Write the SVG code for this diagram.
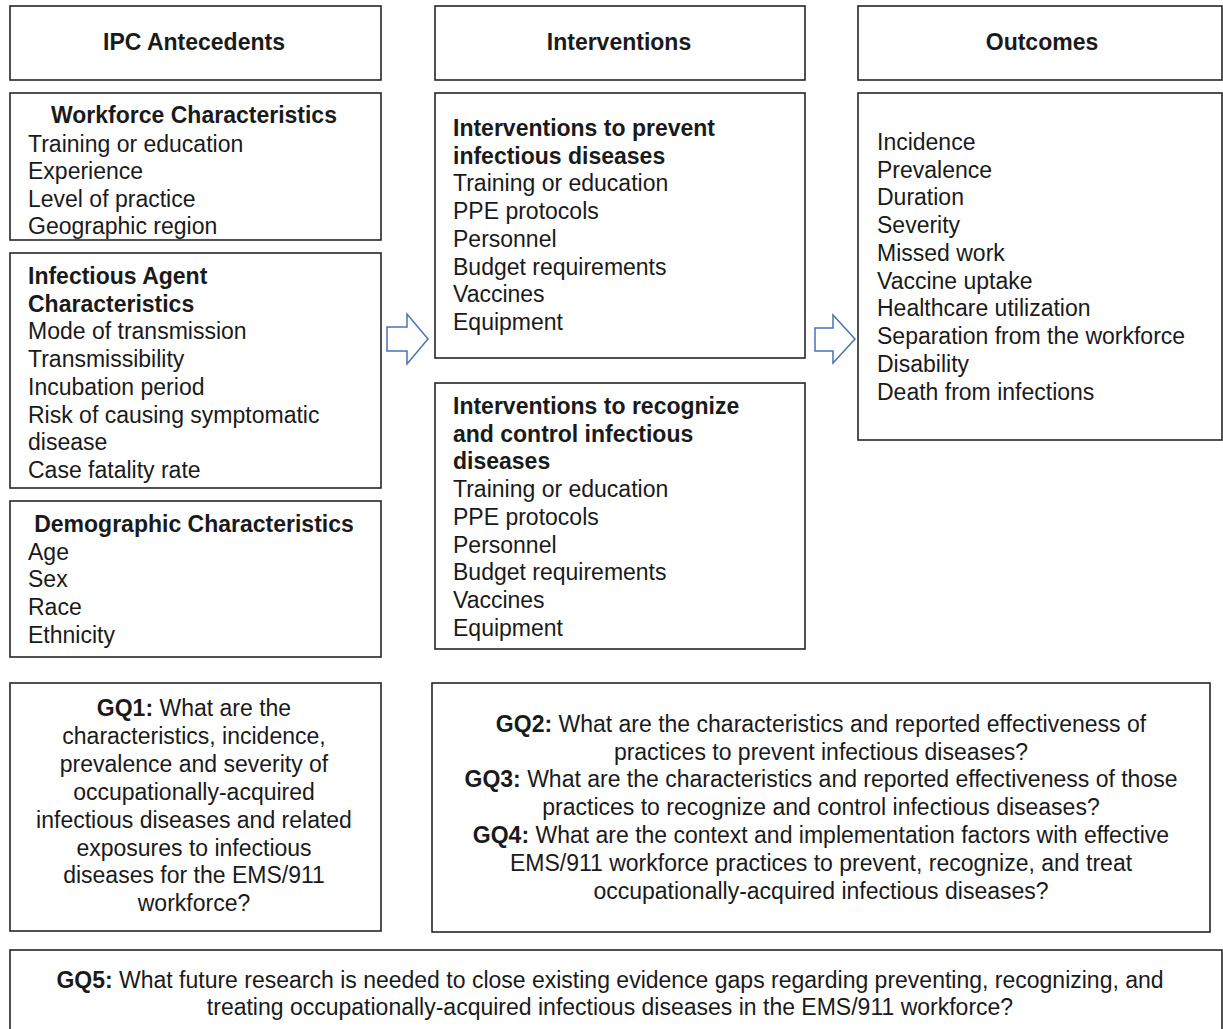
<svg xmlns="http://www.w3.org/2000/svg" width="1223" height="1029" viewBox="0 0 1223 1029">
<style>
.box{fill:#fff;stroke:#262626;stroke-width:1.6}
text{font-family:"Liberation Sans",Arial,sans-serif;font-size:23px;fill:#1a1a1a}
.b{font-weight:bold}
.c{text-anchor:middle}
.arr{fill:#fff;stroke:#4a72b8;stroke-width:1.5;stroke-linejoin:miter}
</style>
<rect width="1223" height="1029" fill="#fff"/>
<g id="n-ipc"><rect class="box" x="10" y="6" width="371" height="74"/><text class="b c" x="194" y="50">IPC Antecedents</text></g>
<g id="n-interventions"><rect class="box" x="435" y="6" width="370" height="74"/><text class="b c" x="619" y="50">Interventions</text></g>
<g id="n-outcomes"><rect class="box" x="858" y="6" width="364" height="74"/><text class="b c" x="1042" y="50">Outcomes</text></g>
<g id="n-workforce"><rect class="box" x="10" y="93" width="371" height="147"/>
<text class="b c" x="194" y="123">Workforce Characteristics</text>
<text x="28" y="151.5">Training or education</text>
<text x="28" y="179">Experience</text>
<text x="28" y="206.5">Level of practice</text>
<text x="28" y="234">Geographic region</text></g>
<g id="n-agent"><rect class="box" x="10" y="253" width="371" height="235"/>
<text class="b" x="28" y="284">Infectious Agent</text>
<text class="b" x="28" y="312">Characteristics</text>
<text x="28" y="339">Mode of transmission</text>
<text x="28" y="367">Transmissibility</text>
<text x="28" y="395">Incubation period</text>
<text x="28" y="423">Risk of causing symptomatic</text>
<text x="28" y="450">disease</text>
<text x="28" y="478">Case fatality rate</text></g>
<g id="n-demographic"><rect class="box" x="10" y="501" width="371" height="156"/>
<text class="b c" x="194" y="532">Demographic Characteristics</text>
<text x="28" y="560">Age</text>
<text x="28" y="587">Sex</text>
<text x="28" y="615">Race</text>
<text x="28" y="643">Ethnicity</text></g>
<g id="n-prevent"><rect class="box" x="435" y="93" width="370" height="265"/>
<text class="b" x="453" y="136">Interventions to prevent</text>
<text class="b" x="453" y="164">infectious diseases</text>
<text x="453" y="191">Training or education</text>
<text x="453" y="219">PPE protocols</text>
<text x="453" y="247">Personnel</text>
<text x="453" y="275">Budget requirements</text>
<text x="453" y="302">Vaccines</text>
<text x="453" y="330">Equipment</text></g>
<g id="n-recognize"><rect class="box" x="435" y="383" width="370" height="266"/>
<text class="b" x="453" y="414">Interventions to recognize</text>
<text class="b" x="453" y="442">and control infectious</text>
<text class="b" x="453" y="469">diseases</text>
<text x="453" y="497">Training or education</text>
<text x="453" y="525">PPE protocols</text>
<text x="453" y="553">Personnel</text>
<text x="453" y="580">Budget requirements</text>
<text x="453" y="608">Vaccines</text>
<text x="453" y="636">Equipment</text></g>
<g id="n-outcomelist"><rect class="box" x="858" y="93" width="364" height="347"/>
<text x="877" y="150">Incidence</text>
<text x="877" y="178">Prevalence</text>
<text x="877" y="205">Duration</text>
<text x="877" y="233">Severity</text>
<text x="877" y="261">Missed work</text>
<text x="877" y="289">Vaccine uptake</text>
<text x="877" y="316">Healthcare utilization</text>
<text x="877" y="344">Separation from the workforce</text>
<text x="877" y="372">Disability</text>
<text x="877" y="400">Death from infections</text></g>
<g id="n-gq1"><rect class="box" x="10" y="683" width="371" height="248"/>
<text class="c" x="194" y="716"><tspan class="b">GQ1:</tspan> What are the</text>
<text class="c" x="194" y="744">characteristics, incidence,</text>
<text class="c" x="194" y="772">prevalence and severity of</text>
<text class="c" x="194" y="800">occupationally-acquired</text>
<text class="c" x="194" y="828">infectious diseases and related</text>
<text class="c" x="194" y="856">exposures to infectious</text>
<text class="c" x="194" y="883">diseases for the EMS/911</text>
<text class="c" x="194" y="911">workforce?</text></g>
<g id="n-gq234"><rect class="box" x="432" y="683" width="778" height="249"/>
<text class="c" x="821" y="732"><tspan class="b">GQ2:</tspan> What are the characteristics and reported effectiveness of</text>
<text class="c" x="821" y="760">practices to prevent infectious diseases?</text>
<text class="c" x="821" y="787"><tspan class="b">GQ3:</tspan> What are the characteristics and reported effectiveness of those</text>
<text class="c" x="821" y="815">practices to recognize and control infectious diseases?</text>
<text class="c" x="821" y="843"><tspan class="b">GQ4:</tspan> What are the context and implementation factors with effective</text>
<text class="c" x="821" y="871">EMS/911 workforce practices to prevent, recognize, and treat</text>
<text class="c" x="821" y="899">occupationally-acquired infectious diseases?</text></g>
<g id="n-gq5"><rect class="box" x="10" y="950" width="1212" height="95"/>
<text class="c" x="610" y="988"><tspan class="b">GQ5:</tspan> What future research is needed to close existing evidence gaps regarding preventing, recognizing, and</text>
<text class="c" x="610" y="1015">treating occupationally-acquired infectious diseases in the EMS/911 workforce?</text></g>
<g id="connectors">
<polygon class="arr" points="387,327 407,327 407,314 428,339 407,364 407,351 387,351"/>
<polygon class="arr" points="815,328 833,328 833,315 855,339 833,363 833,351 815,351"/>
</g>
</svg>
